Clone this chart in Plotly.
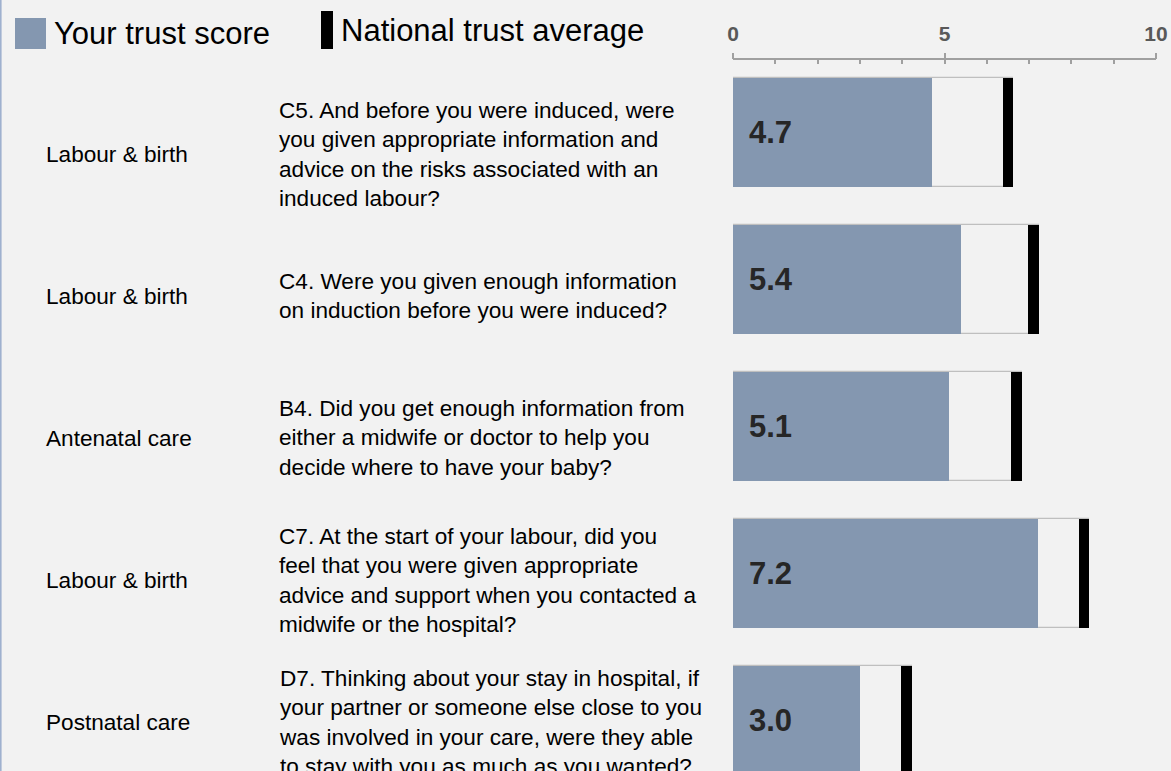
import plotly.graph_objects as go

# ---- data ----
categories = ["Labour & birth", "Labour & birth", "Antenatal care", "Labour & birth", "Postnatal care"]
questions = [
    "C5. And before you were induced, were<br>you given appropriate information and<br>advice on the risks associated with an<br>induced labour?",
    "C4. Were you given enough information<br>on induction before you were induced?",
    "B4. Did you get enough information from<br>either a midwife or doctor to help you<br>decide where to have your baby?",
    "C7. At the start of your labour, did you<br>feel that you were given appropriate<br>advice and support when you contacted a<br>midwife or the hospital?",
    "D7. Thinking about your stay in hospital, if<br>your partner or someone else close to you<br>was involved in your care, were they able<br>to stay with you as much as you wanted?",
]
trust_scores = [4.7, 5.4, 5.1, 7.2, 3.0]
national_avg = [6.5, 7.1, 6.7, 8.3, 4.1]
tick_values = [0, 5, 10]
tick_labels = ["0", "5", "10"]

W, H = 1171, 771
FONT = "Liberation Sans, Arial, sans-serif"
BG = "#f2f2f2"
BLUE = "#8497b0"
MARK_W = 0.25   # width of national-average marker in axis units
BAR_W = 0.7415

rows = list(range(len(categories)))

def px(x):
    return x / W

def py(y):
    return 1 - y / H

fig = go.Figure()

# outline box from 0 to national average
fig.add_trace(go.Bar(
    y=rows, x=[v + MARK_W / 2 for v in national_avg], base=0, orientation="h",
    width=BAR_W, marker=dict(color=BG, line=dict(color="#bfbfbf", width=1.2)),
    hoverinfo="skip", showlegend=False,
))
# trust score
fig.add_trace(go.Bar(
    y=rows, x=trust_scores, base=0, orientation="h", name="Your trust score",
    width=BAR_W, marker=dict(color=BLUE, line=dict(width=0)), showlegend=False,
))
# national average marker
fig.add_trace(go.Bar(
    y=rows, x=[MARK_W] * len(rows), base=[v - MARK_W / 2 for v in national_avg],
    orientation="h", name="National trust average",
    width=BAR_W, marker=dict(color="black", line=dict(width=0)), showlegend=False,
))
# invisible trace on the overlay axis for ticks
fig.add_trace(go.Scatter(x=[0, 10], y=[0, 0], xaxis="x2", mode="markers",
                         marker=dict(opacity=0), hoverinfo="skip", showlegend=False))

annotations = []
# value labels
for i, v in enumerate(trust_scores):
    annotations.append(dict(
        x=0, y=i, xref="x", yref="y", xanchor="left", yanchor="middle", xshift=14,
        text=f"<b>{v:.1f}</b>", showarrow=False,
        font=dict(family=FONT, size=31, color="#262626"),
    ))

text_rows_px = [155, 296, 438, 580, 722]
for i in rows:
    annotations.append(dict(
        x=px(44), y=py(text_rows_px[i]), xref="paper", yref="paper",
        xanchor="left", yanchor="middle", align="left", showarrow=False,
        text=categories[i], font=dict(family=FONT, size=22.6, color="#000000"),
    ))
    annotations.append(dict(
        x=px(277), y=py(text_rows_px[i]), xref="paper", yref="paper",
        xanchor="left", yanchor="middle", align="left", showarrow=False,
        text=questions[i], font=dict(family=FONT, size=22.6, color="#000000"),
    ))

# legend texts
annotations.append(dict(x=px(52), y=py(34), xref="paper", yref="paper", xanchor="left",
                        yanchor="middle", showarrow=False, text="Your trust score",
                        font=dict(family=FONT, size=31, color="#000000")))
annotations.append(dict(x=px(339), y=py(31), xref="paper", yref="paper", xanchor="left",
                        yanchor="middle", showarrow=False, text="National trust average",
                        font=dict(family=FONT, size=31, color="#000000")))

shapes = [
    dict(type="rect", xref="paper", yref="paper", x0=px(15), x1=px(46), y0=py(49), y1=py(18),
         fillcolor=BLUE, line=dict(width=0)),
    dict(type="rect", xref="paper", yref="paper", x0=px(321), x1=px(333), y0=py(49), y1=py(11),
         fillcolor="black", line=dict(width=0)),
    dict(type="line", xref="paper", yref="paper", x0=px(0.8), x1=px(0.8), y0=0, y1=1,
         line=dict(color="#9fb1cf", width=1.6)),
]

y_top = (60 - 132.5) / 147
y_bot = (771 - 132.5) / 147

fig.update_layout(
    width=W, height=H, autosize=False,
    paper_bgcolor=BG, plot_bgcolor=BG,
    margin=dict(l=0, r=0, t=0, b=0, pad=0),
    barmode="overlay", bargap=0,
    showlegend=False,
    annotations=annotations, shapes=shapes,
    xaxis=dict(
        domain=[px(733), px(1156)], range=[0, 10], side="top", automargin=False,
        showgrid=False, zeroline=False, showline=True, linecolor="#a0a0a0", linewidth=2,
        tickvals=tick_values, ticktext=tick_labels, ticks="inside", ticklen=4,
        tickcolor="#a0a0a0", tickwidth=2,
        minor=dict(dtick=1, ticks="inside", ticklen=4, tickcolor="#a0a0a0", tickwidth=2),
        tickfont=dict(family=FONT, size=21, color="#595959", weight="bold"),
        ticklabelstandoff=9, fixedrange=True,
    ),
    xaxis2=dict(
        domain=[px(733), px(1156)], range=[0, 10], side="top", overlaying="x", anchor="y",
        automargin=False,
        showgrid=False, zeroline=False, showline=False, showticklabels=False,
        tickvals=tick_values, ticks="outside", ticklen=6, tickcolor="#a0a0a0", tickwidth=2,
    ),
    yaxis=dict(
        domain=[0, py(60)], range=[y_bot, y_top], showgrid=False, zeroline=False,
        automargin=False,
        showline=False, showticklabels=False, ticks="", fixedrange=True,
    ),
)

post = (
    "document.documentElement.style.margin='0';"
    "document.documentElement.style.overflow='hidden';"
    "document.body.style.margin='0';"
    "document.body.style.overflow='hidden';"
)

fig.write_html(
    "out.html",
    config={"displayModeBar": False},
    post_script=post,
)
